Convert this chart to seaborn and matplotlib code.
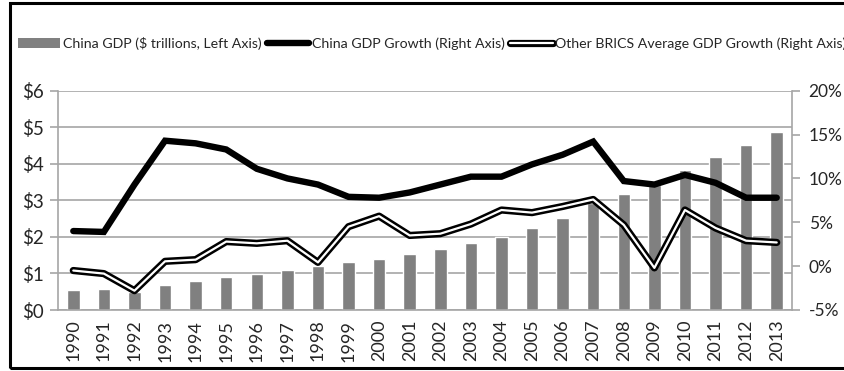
import numpy as np
import pandas as pd
import matplotlib
matplotlib.use("Agg")
import matplotlib.pyplot as plt
from matplotlib.lines import Line2D
from matplotlib.patches import Patch, Rectangle
from matplotlib.legend_handler import HandlerTuple
import seaborn as sns

years = [str(y) for y in range(1990, 2014)]
china_gdp = [0.55, 0.57, 0.49, 0.69, 0.79, 0.89, 0.98, 1.10, 1.20, 1.30, 1.40, 1.52,
             1.66, 1.83, 2.00, 2.24, 2.53, 2.92, 3.17, 3.42, 3.84, 4.19, 4.52, 4.86]
china_growth = [4.0, 3.9, 9.3, 14.3, 14.0, 13.3, 11.1, 10.0, 9.3, 7.9, 7.8, 8.4,
                9.3, 10.2, 10.2, 11.6, 12.7, 14.2, 9.7, 9.3, 10.4, 9.5, 7.8, 7.8]
brics_growth = [-0.5, -0.85, -2.8, 0.55, 0.74, 2.8, 2.6, 2.9, 0.43, 4.5, 5.7, 3.5,
                3.7, 4.8, 6.4, 6.1, 6.8, 7.6, 4.7, -0.2, 6.4, 4.35, 2.9, 2.7]
left_ticks = [0, 1, 2, 3, 4, 5, 6]
right_ticks = [-5, 0, 5, 10, 15, 20]

df = pd.DataFrame({
    "year": years,
    "pos": np.arange(len(years)),
    "gdp": china_gdp,
    "china": china_growth,
    "brics": brics_growth,
})

sns.set_theme(style="white")
plt.rcParams["font.family"] = ["Lato", "DejaVu Sans"]
TXT = "#262626"
GRID = "#a6a6a6"

fig = plt.figure(figsize=(8.45, 3.71), dpi=100)
ax = fig.add_axes([58 / 845, 1 - 310 / 371, (792 - 58) / 845, (310 - 90.7) / 371])

sns.barplot(data=df, x="year", y="gdp", color="#808080", saturation=1,
            width=0.41, ax=ax, zorder=2)
ax.set_xlim(-0.5, len(years) - 0.5)
ax.set_ylim(0, 6)
ax.set_yticks(left_ticks)
ax.set_yticklabels([f"${v}" for v in left_ticks])
ax.yaxis.grid(True, color=GRID, lw=1.2, zorder=0)
ax.set_axisbelow(True)
ax.set_xlabel("")
ax.set_ylabel("")

ax2 = ax.twinx()
sns.lineplot(data=df, x="pos", y="china", color="black", lw=4.6, ax=ax2,
             solid_joinstyle="miter")
sns.lineplot(data=df, x="pos", y="brics", color="black", lw=5.2, ax=ax2)
sns.lineplot(data=df, x="pos", y="brics", color="white", lw=1.6, ax=ax2)
ax2.set_ylim(-5, 20)
ax2.set_yticks(right_ticks)
ax2.set_yticklabels([f"{v}%" for v in right_ticks])
ax2.set_xlim(-0.5, len(years) - 0.5)
ax2.set_xlabel("")
ax2.set_ylabel("")

for a in (ax, ax2):
    for s in a.spines.values():
        s.set_visible(False)
for a, side in ((ax, "left"), (ax, "bottom"), (ax2, "right")):
    sp = a.spines[side]
    sp.set_visible(True)
    sp.set_color(GRID)
    sp.set_linewidth(1.2)

ax.set_xticks(np.arange(len(years)))
ax.set_xticklabels(years, rotation=90)
ax.set_xticks(np.arange(-0.5, len(years)), minor=True)
ax.tick_params(axis="x", which="major", length=0, pad=7, labelsize=13, labelcolor=TXT)
ax.tick_params(axis="x", which="minor", length=6, width=1.2, color=GRID, direction="out")
ax.tick_params(axis="y", length=6, width=1.2, color=GRID, direction="out", left=True,
               labelsize=13.5, labelcolor=TXT, pad=4)
ax2.tick_params(axis="y", length=6, width=1.2, color=GRID, direction="out", right=True,
                labelsize=12.5, labelcolor=TXT, pad=6)
ax2.tick_params(axis="x", bottom=False, labelbottom=False)

handles = [
    Patch(facecolor="#808080", edgecolor="none"),
    Line2D([], [], color="black", lw=4.6),
    (Line2D([], [], color="black", lw=5.2), Line2D([], [], color="white", lw=1.6)),
]
labels = ["China GDP ($ trillions, Left Axis)", "China GDP Growth (Right Axis)",
          "Other BRICS Average GDP Growth (Right Axis)"]
fig.legend(handles, labels, loc="center left", bbox_to_anchor=(18 / 845, 1 - 43 / 371),
           ncol=3, frameon=False, fontsize=10.2, handlelength=3.0, handletextpad=0.15,
           columnspacing=0.4, borderaxespad=0, borderpad=0,
           handler_map={tuple: HandlerTuple(ndivide=1)}, labelcolor=TXT)

# outer frame: open on the right, where the chart runs past the image edge
fig.patches.append(Rectangle((10 / 845, 3 / 371), 1.2, 1 - 5.5 / 371, transform=fig.transFigure,
                             fill=False, edgecolor="black", lw=2.2, zorder=10))

fig.savefig("out.png", dpi=100)
